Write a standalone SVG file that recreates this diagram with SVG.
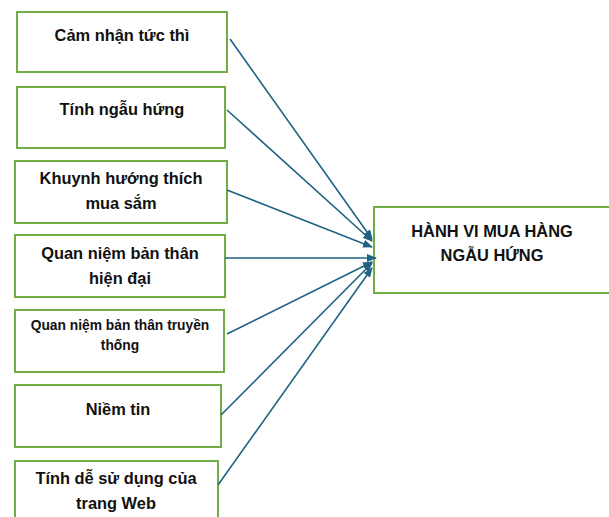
<svg xmlns="http://www.w3.org/2000/svg" width="609" height="517" viewBox="0 0 609 517">
<defs>
<marker id="ah" markerWidth="10" markerHeight="8" refX="9" refY="4" orient="auto" markerUnits="userSpaceOnUse">
<path d="M0,0 L10,4 L0,8 Z" fill="#1f6382"/>
</marker>
<style>
.box{fill:#fff;stroke:#70ad47;stroke-width:2}
.t{font-family:"Liberation Sans",Arial,sans-serif;font-weight:bold;font-size:16.4px;fill:#111;text-anchor:middle}
.s{font-size:13.8px}
.c{stroke:#1f6382;stroke-width:1.6;fill:none;marker-end:url(#ah)}
</style>
</defs>
<rect width="609" height="517" fill="#fff"/>
<g id="n1"><rect class="box" x="17" y="12" width="210" height="60"/><text class="t" x="122" y="41">Cảm nhận tức thì</text></g>
<g id="n2"><rect class="box" x="17" y="87" width="208" height="61"/><text class="t" x="122" y="115">Tính ngẫu hứng</text></g>
<g id="n3"><rect class="box" x="15" y="161" width="212" height="62"/><text class="t" x="121" y="184">Khuynh hướng thích</text><text class="t" x="121" y="209">mua sắm</text></g>
<g id="n4"><rect class="box" x="15" y="235" width="210" height="62"/><text class="t" x="120" y="259">Quan niệm bản thân</text><text class="t" x="120" y="284">hiện đại</text></g>
<g id="n5"><rect class="box" x="15" y="310" width="209" height="62"/><text class="t s" x="120" y="330">Quan niệm bản thân truyền</text><text class="t s" x="120" y="350">thống</text></g>
<g id="n6"><rect class="box" x="15" y="385" width="206" height="62"/><text class="t" x="118" y="415">Niềm tin</text></g>
<g id="n7"><rect class="box" x="15" y="461" width="203" height="70"/><text class="t" x="116" y="484">Tính dễ sử dụng của</text><text class="t" x="116" y="509">trang Web</text></g>
<g id="target"><rect class="box" x="374" y="207" width="236" height="86"/><text class="t" x="492" y="237">HÀNH VI MUA HÀNG</text><text class="t" x="492" y="261">NGẪU HỨNG</text></g>
<g id="connectors">
<line class="c" x1="230" y1="39" x2="372" y2="239"/>
<line class="c" x1="227" y1="110" x2="372" y2="241"/>
<line class="c" x1="227" y1="190" x2="372" y2="247"/>
<line class="c" x1="225" y1="258" x2="376" y2="258"/>
<line class="c" x1="227" y1="334" x2="372" y2="262"/>
<line class="c" x1="221" y1="415" x2="372" y2="263"/>
<line class="c" x1="218" y1="485" x2="372" y2="268"/>
</g>
</svg>
